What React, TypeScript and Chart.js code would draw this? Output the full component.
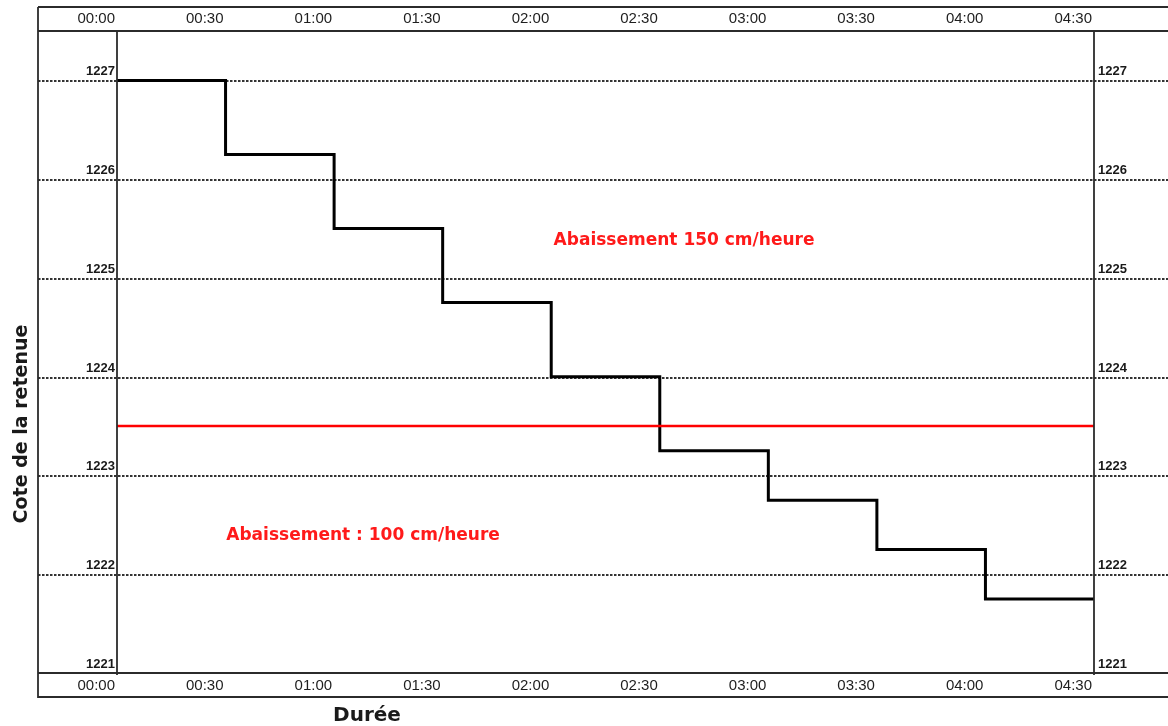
import { useEffect, useRef } from "react";
import { Chart, registerables } from "chart.js";

Chart.register(...registerables);

// ---- Data ----
const timeLabels = ["00:00", "00:30", "01:00", "01:30", "02:00", "02:30", "03:00", "03:30", "04:00", "04:30"];
const timeMinutes = [0, 30, 60, 90, 120, 150, 180, 210, 240, 270];
const stepLevels = [1227, 1226.25, 1225.5, 1224.75, 1224, 1223.25, 1222.75, 1222.25, 1221.75, 1221.75];
const thresholdLevel = 1223.5;
const levelTicks = [1221, 1222, 1223, 1224, 1225, 1226, 1227];
const yMin = 1221;
const yMax = 1227.5;
const xMin = 0;
const xMax = 270;

const annotationTexts = ["Abaissement 150 cm/heure", "Abaissement : 100 cm/heure"];
const annotationX = [156.7, 68];
const annotationY = [1225.38, 1222.39];

const xTitle = "Durée";
const yTitle = "Cote de la retenue";

const framePlugin = {
  id: "framePlugin",
  beforeDatasetsDraw(chart: any) {
    const { ctx, chartArea: a, scales } = chart;
    const ys = scales.y;
    const outerLeft = a.left - 79;
    const outerRight = chart.width;
    ctx.save();
    ctx.strokeStyle = "#333333";
    ctx.lineWidth = 1.8;
    ctx.setLineDash([2.5, 1.5]);
    levelTicks.forEach((v) => {
      if (v === yMin) return;
      const py = Math.round(ys.getPixelForValue(v)) + 1;
      ctx.beginPath();
      ctx.moveTo(outerLeft, py);
      ctx.lineTo(outerRight, py);
      ctx.stroke();
    });
    ctx.restore();
  },
  afterDraw(chart: any) {
    const { ctx, chartArea: a, scales } = chart;
    const xs = scales.x;
    const ys = scales.y;
    const outerLeft = a.left - 79;
    const outerRight = chart.width;
    const band = 24;
    ctx.save();
    ctx.setLineDash([]);
    ctx.strokeStyle = "#2b2b2b";
    ctx.lineWidth = 1.8;
    const line = (x1: number, y1: number, x2: number, y2: number) => {
      ctx.beginPath();
      ctx.moveTo(x1, y1);
      ctx.lineTo(x2, y2);
      ctx.stroke();
    };
    line(outerLeft, a.top - band, outerRight, a.top - band);
    line(outerLeft, a.top, outerRight, a.top);
    line(outerLeft, a.bottom, outerRight, a.bottom);
    line(outerLeft, a.bottom + band, outerRight, a.bottom + band);
    line(outerLeft, a.top - band, outerLeft, a.bottom + band + 1);
    line(a.left, a.top, a.left, a.bottom + 2);
    line(a.right, a.top, a.right, a.bottom + 2);

    // time labels (top and bottom bands)
    ctx.fillStyle = "#1e1e1e";
    ctx.font = "15px 'Liberation Sans', Arial, sans-serif";
    ctx.textAlign = "right";
    ctx.textBaseline = "middle";
    timeMinutes.forEach((m, i) => {
      const px = xs.getPixelForValue(m) - 2;
      ctx.fillText(timeLabels[i], px, a.top - band / 2);
      ctx.fillText(timeLabels[i], px, a.bottom + band / 2 + 1);
    });

    // level labels (left and right)
    ctx.font = "bold 13px 'Liberation Sans', Arial, sans-serif";
    ctx.textBaseline = "alphabetic";
    ctx.fillStyle = "#1a1a1a";
    levelTicks.forEach((v) => {
      const py = ys.getPixelForValue(v) - 5;
      ctx.textAlign = "right";
      ctx.fillText(String(v), a.left - 2, py);
      ctx.textAlign = "left";
      ctx.fillText(String(v), a.right + 4, py);
    });

    // annotations
    ctx.fillStyle = "#ff1a1a";
    ctx.font = "bold 17px 'DejaVu Sans', sans-serif";
    ctx.textAlign = "center";
    ctx.textBaseline = "middle";
    annotationTexts.forEach((t, i) => {
      ctx.fillText(t, xs.getPixelForValue(annotationX[i]), ys.getPixelForValue(annotationY[i]));
    });

    // axis titles
    ctx.fillStyle = "#1a1a1a";
    ctx.font = "bold 20px 'DejaVu Sans', sans-serif";
    ctx.textAlign = "center";
    ctx.textBaseline = "middle";
    ctx.fillText(xTitle, a.left + 250, a.bottom + 43);
    ctx.save();
    ctx.translate(22, a.top + 393);
    ctx.rotate(-Math.PI / 2);
    ctx.font = "bold 19px 'DejaVu Sans', sans-serif";
    ctx.fillText(yTitle, 0, 0);
    ctx.restore();
    ctx.restore();
  },
};

export default function App() {
  const canvasRef = useRef<HTMLCanvasElement | null>(null);

  useEffect(() => {
    if (!canvasRef.current) return;
    const chart = new Chart(canvasRef.current, {
      type: "line",
      data: {
        datasets: [
          {
            label: "Seuil",
            data: [
              { x: xMin, y: thresholdLevel },
              { x: xMax, y: thresholdLevel },
            ],
            borderColor: "#ff0000",
            borderWidth: 2.5,
            pointRadius: 0,
            fill: false,
          },
          {
            label: "Cote",
            data: timeMinutes.map((m, i) => ({ x: m, y: stepLevels[i] })),
            borderColor: "#000000",
            borderWidth: 3,
            pointRadius: 0,
            stepped: true,
            fill: false,
          },
        ],
      },
      options: {
        responsive: false,
        animation: false,
        devicePixelRatio: 1,
        layout: { padding: { left: 117, top: 31, right: 74, bottom: 53 } },
        plugins: {
          legend: { display: false },
          tooltip: { enabled: false },
        },
        scales: {
          x: { type: "linear", min: xMin, max: xMax, display: false },
          y: { type: "linear", min: yMin, max: yMax, display: false },
        },
      },
      plugins: [framePlugin],
    } as any);
    return () => chart.destroy();
  }, []);

  return (
    <canvas
      ref={canvasRef}
      width={1168}
      height={726}
      style={{ position: "fixed", left: 0, top: 0, background: "#fff" }}
    />
  );
}
